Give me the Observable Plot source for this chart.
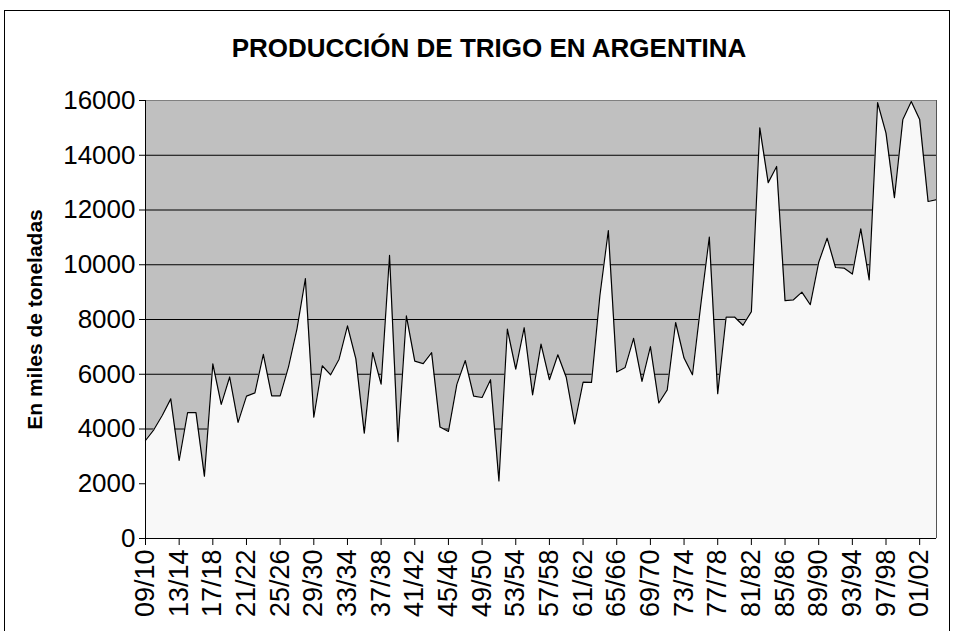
<!DOCTYPE html>
<html><head><meta charset="utf-8">
<script src="https://cdn.jsdelivr.net/npm/d3@7"></script>
<script src="https://cdn.jsdelivr.net/npm/@observablehq/plot@0.6"></script>
<style>
html,body{margin:0;padding:0;background:#fff;overflow:hidden;width:953px;height:631px;}
#frame{position:absolute;left:4px;top:10px;width:946px;height:700px;border:1px solid #000;box-sizing:border-box;}
#title{position:absolute;left:0;width:978px;top:33px;text-align:center;font:bold 26px "Liberation Sans",Arial,sans-serif;color:#000;}
#chart{position:absolute;left:0;top:0;}
</style></head><body>
<div id="frame"></div>
<div id="title">PRODUCCIÓN DE TRIGO EN ARGENTINA</div>
<div id="chart"></div>
<script>
const seasons = [
  "09/10","10/11","11/12","12/13","13/14","14/15","15/16","16/17","17/18","18/19",
  "19/20","20/21","21/22","22/23","23/24","24/25","25/26","26/27","27/28","28/29",
  "29/30","30/31","31/32","32/33","33/34","34/35","35/36","36/37","37/38","38/39",
  "39/40","40/41","41/42","42/43","43/44","44/45","45/46","46/47","47/48","48/49",
  "49/50","50/51","51/52","52/53","53/54","54/55","55/56","56/57","57/58","58/59",
  "59/60","60/61","61/62","62/63","63/64","64/65","65/66","66/67","67/68","68/69",
  "69/70","70/71","71/72","72/73","73/74","74/75","75/76","76/77","77/78","78/79",
  "79/80","80/81","81/82","82/83","83/84","84/85","85/86","86/87","87/88","88/89",
  "89/90","90/91","91/92","92/93","93/94","94/95","95/96","96/97","97/98","98/99",
  "99/00","00/01","01/02","02/03","03/04"
];
const production = [
  3580, 3980, 4500, 5100, 2850, 4600, 4600, 2280, 6380, 4900,
  5900, 4240, 5200, 5320, 6730, 5210, 5210, 6280, 7660, 9490,
  4430, 6310, 5980, 6550, 7770, 6560, 3850, 6790, 5640, 10340,
  3540, 8130, 6480, 6390, 6790, 4070, 3910, 5630, 6500, 5200,
  5150, 5800, 2100, 7650, 6190, 7700, 5250, 7100, 5800, 6710,
  5890, 4190, 5710, 5700, 8880, 11250, 6080, 6250, 7310, 5740,
  7010, 4950, 5430, 7890, 6590, 5980, 8570, 11010, 5290, 8090,
  8090, 7790, 8290, 15000, 13000, 13590, 8690, 8720, 9000, 8540,
  10090, 10970, 9900, 9880, 9660, 11310, 9450, 15920, 14810, 12450,
  15310, 15960, 15310, 12310, 12380
];
const xTickLabels = ["09/10","13/14","17/18","21/22","25/26","29/30","33/34","37/38","41/42","45/46","49/50","53/54","57/58","61/62","65/66","69/70","73/74","77/78","81/82","85/86","89/90","93/94","97/98","01/02"];
const yTicks = [0, 2000, 4000, 6000, 8000, 10000, 12000, 14000, 16000];
const yTitle = "En miles de toneladas";

const data = seasons.map((s, i) => ({season: s, value: production[i]}));
const font = '"Liberation Sans", Arial, sans-serif';

const plot = Plot.plot({
  width: 953, height: 631,
  marginLeft: 145, marginRight: 17, marginTop: 100, marginBottom: 93,
  style: {fontFamily: font, background: "transparent", color: "#000", overflow: "visible"},
  x: {type: "point", domain: seasons, padding: 0, axis: null},
  y: {domain: [0, 16000], axis: null},
  marks: [
    Plot.frame({fill: "#c0c0c0", stroke: null}),
    Plot.gridY(yTicks.filter(d => d > 0), {stroke: "#000", strokeOpacity: 1, strokeWidth: 1}),
    Plot.areaY(data, {x: "season", y: "value", fill: "#f8f8f8"}),
    Plot.lineY(data, {x: "season", y: "value", stroke: "#000", strokeWidth: 1.2}),
    Plot.ruleY([16000], {stroke: "#808080"}),
    Plot.ruleX([seasons[seasons.length - 1]], {stroke: "#555"}),
    Plot.ruleX([seasons[0]], {stroke: "#000"}),
    Plot.ruleY([0], {stroke: "#000"}),
    Plot.axisY({ticks: yTicks, tickSize: 6, tickPadding: 4, fontSize: 26, label: null, tickFormat: d => String(d)}),
    Plot.axisX({ticks: xTickLabels, tickRotate: -90, tickSize: 7, tickPadding: 4, fontSize: 27, label: null}),
    Plot.text([yTitle], {frameAnchor: "left", dx: -110, rotate: -90, textAnchor: "middle", fontWeight: "bold", fontSize: 21, fill: "#000"})
  ]
});
document.getElementById("chart").appendChild(plot);
</script>
</body></html>
